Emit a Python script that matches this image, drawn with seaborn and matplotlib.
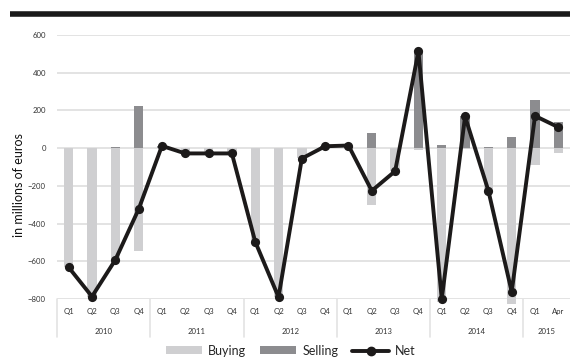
import numpy as np
import pandas as pd
import seaborn as sns
import matplotlib.pyplot as plt
from matplotlib.patches import Patch
from matplotlib.lines import Line2D
import matplotlib.transforms as mtransforms

# Data (millions of euros)
years = ["2010"] * 4 + ["2011"] * 4 + ["2012"] * 4 + ["2013"] * 4 + ["2014"] * 4 + ["2015"] * 2
quarters = ["Q1", "Q2", "Q3", "Q4"] * 5 + ["Q1", "Apr"]
buying = [-630, -790, -600, -548, 0, -28, -28, -28, -500, -790, -50, 0,
          0, -302, -120, -10, -815, -5, -230, -825, -90, -28]
selling = [0, 0, 8, 224, 10, 0, 0, 0, 0, 0, 0, 10,
           14, 78, 0, 515, 16, 170, 6, 60, 258, 139]
net = [-632, -787, -593, -324, 12, -28, -28, -28, -496, -790, -55, 10,
       14, -226, -122, 513, -800, 168, -226, -762, 171, 111]


def main():
    sns.set_style("white")
    plt.rcParams['font.family'] = ['Lato', 'DejaVu Sans']

    df = pd.DataFrame({
        'period': [y + " " + q for y, q in zip(years, quarters)],
        'year': years,
        'quarter': quarters,
        'Buying': buying,
        'Selling': selling,
        'Net': net,
    })
    order = list(df['period'])

    light = "#cfcfd1"
    dark = "#8c8c8f"
    line_col = "#1c1a1a"

    fig = plt.figure(figsize=(5.7, 3.58), dpi=100)
    ax = fig.add_axes([0.1, 0.1648, 0.9, 0.7374])

    # bars for buying (down) and selling (up)
    sns.barplot(data=df, x='period', y='Buying', order=order, color=light,
                width=0.4, saturation=1, ax=ax, clip_on=False, linewidth=0)
    sns.barplot(data=df, x='period', y='Selling', order=order, color=dark,
                width=0.4, saturation=1, ax=ax, clip_on=False, linewidth=0)
    # net line
    sns.pointplot(data=df, x='period', y='Net', order=order, color=line_col,
                  markers='o', linestyles='-', linewidth=2.8, markersize=4.5,
                  ax=ax, clip_on=False, zorder=5)

    ax.set_ylim(-800, 600)
    ax.set_xlim(-0.5, len(order) - 0.5)
    ax.set_yticks(np.arange(-800, 601, 200))
    ax.yaxis.grid(True, color='#e3e3e3', linewidth=1.4)
    ax.set_axisbelow(True)
    for s in ax.spines.values():
        s.set_visible(False)

    ax.set_xticks(range(len(order)))
    ax.set_xticklabels(quarters)
    ax.tick_params(axis='x', length=0, pad=6.5, labelsize=5.6, labelcolor='#333333')
    ax.tick_params(axis='y', length=0, pad=8, labelsize=5.6, labelcolor='#333333')
    ax.set_xlabel('')
    ax.set_ylabel('in millions of euros', fontsize=9, color='#111111')
    ax.yaxis.set_label_coords(-0.062, 0.43)

    # year labels and separators under the quarter labels
    trans = mtransforms.blended_transform_factory(ax.transData, ax.transAxes)
    yr_list = list(dict.fromkeys(years))
    start = 0
    for yr in yr_list:
        n = years.count(yr)
        ax.plot([start - 0.5, start - 0.5], [0, -0.145], color='#e3e3e3', lw=1.2,
                transform=trans, clip_on=False)
        ax.text(start + (n - 1) / 2, -0.122, yr, transform=trans, ha='center',
                va='center', fontsize=5.6, color='#333333')
        start += n

    # legend at the bottom
    handles = [
        Patch(facecolor=light, edgecolor='none', label='Buying'),
        Patch(facecolor=dark, edgecolor='none', label='Selling'),
        Line2D([0], [0], color=line_col, lw=2.8, marker='o', markersize=6, label='Net'),
    ]
    fig.legend(handles=handles, loc='center', bbox_to_anchor=(0.51, 0.02), ncol=3,
               frameon=False, fontsize=9, handlelength=2.9, handleheight=0.6,
               columnspacing=1.1, handletextpad=0.5)

    # dark heading band across the top
    fig.add_artist(Line2D([0.018, 1.0], [0.9595, 0.9595], color='#1a1a1a', lw=4,
                          solid_capstyle='butt', transform=fig.transFigure))

    fig.savefig('out.png', dpi=100)


if __name__ == "__main__":
    main()
